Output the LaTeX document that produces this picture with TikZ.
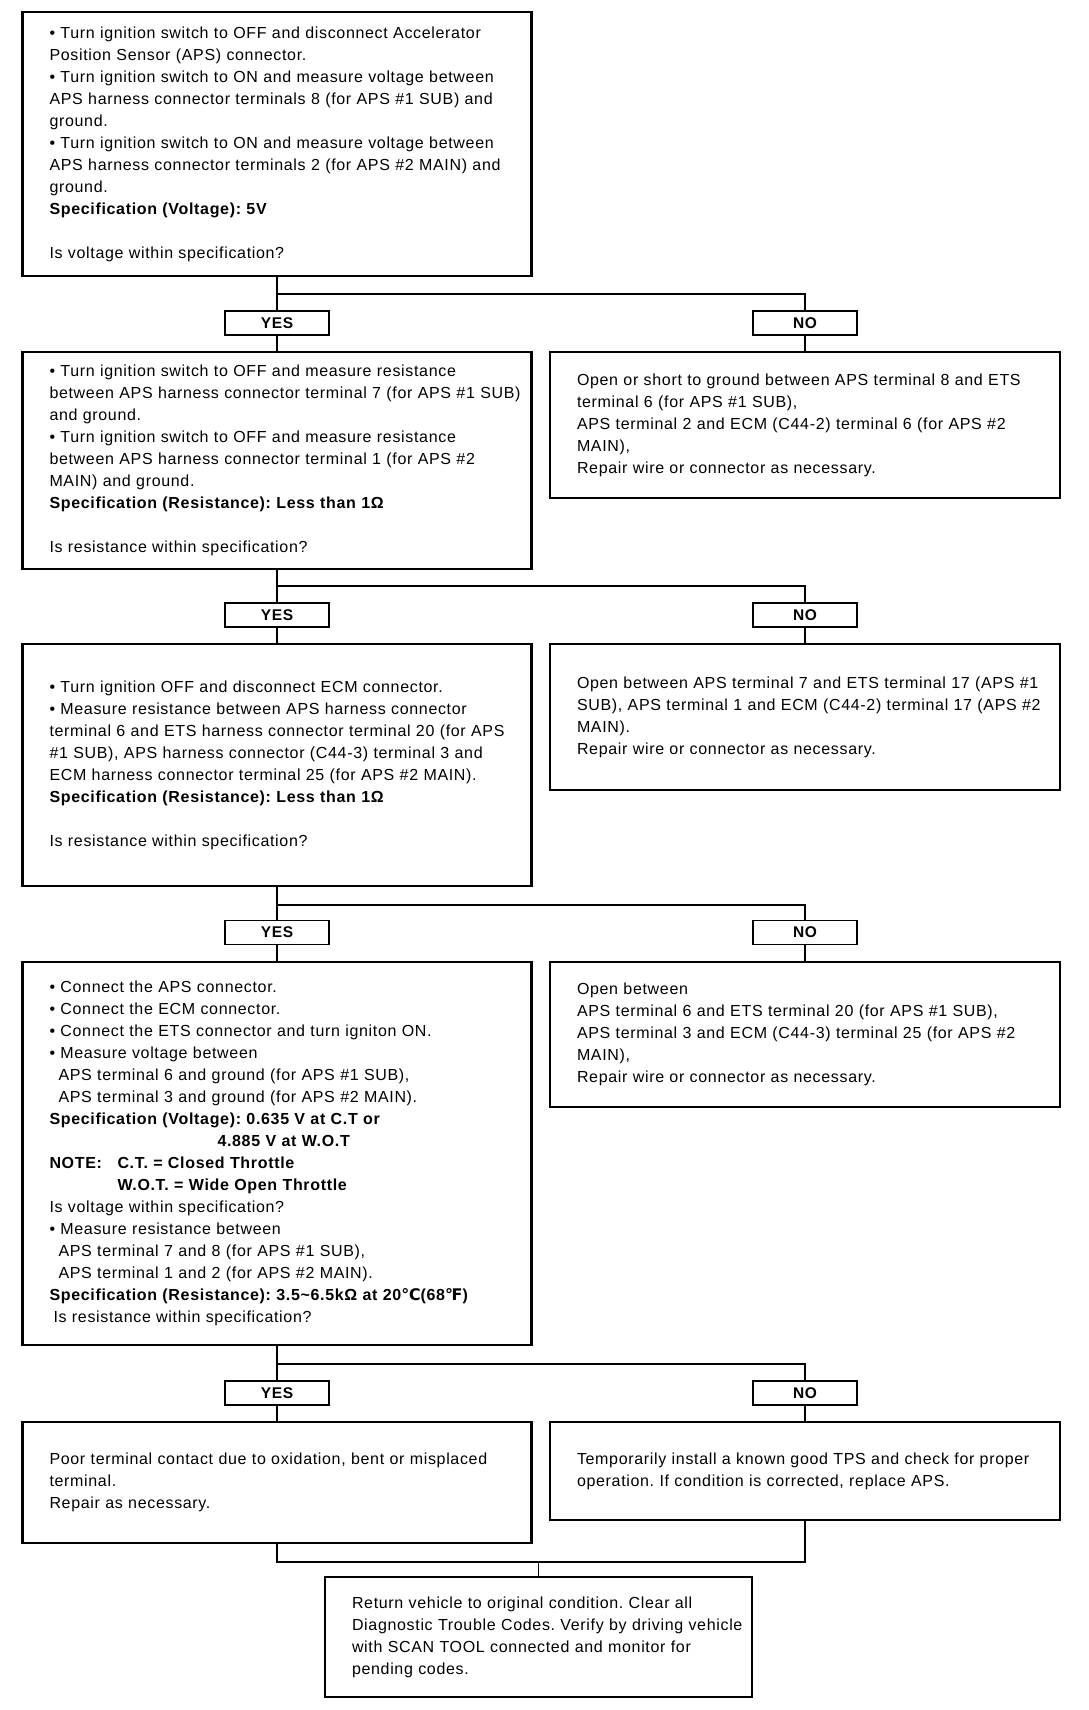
\documentclass[tikz,border=0pt]{standalone}
\usepackage{fontspec}
\setmainfont{Liberation Sans}[LetterSpace=4.2]
\newfontfamily\symfont{DejaVu Sans}

\begin{document}
\begin{tikzpicture}[x=1pt,y=1pt,
    box/.style={draw,line width=2.2pt,inner xsep=0pt,inner ysep=0pt,align=left,
      font=\fontsize{16}{22}\selectfont\frenchspacing,
      execute at begin node={\leftskip=25pt\rightskip=-40pt plus 1fil\relax}},
    lbox/.style={box,minimum width=509pt,text width=505pt},
    rbox/.style={box,minimum width=510pt,text width=506pt},
    yn/.style={draw,line width=1.8pt,minimum width=104pt,minimum height=24pt,inner sep=0pt,
      font=\fontsize{15.5}{18}\selectfont\bfseries},
    link/.style={line width=1.5pt}]
  \useasboundingbox (0,0) rectangle (1088,-1710);

  % checks on the left
  \node[lbox,minimum height=264pt] (chk1) at (277,-144) {%
    • Turn ignition switch to OFF and disconnect Accelerator\\
    Position Sensor (APS) connector.\\
    • Turn ignition switch to ON and measure voltage between\\
    APS harness connector terminals 8 (for APS \#1 SUB) and\\
    ground.\\
    • Turn ignition switch to ON and measure voltage between\\
    APS harness connector terminals 2 (for APS \#2 MAIN) and\\
    ground.\\
    \textbf{Specification (Voltage): 5V}\\[22pt]
    Is voltage within specification?};
  \node[lbox,minimum height=217pt] (chk2) at (277,-460.5) {%
    • Turn ignition switch to OFF and measure resistance\\
    between APS harness connector terminal 7 (for APS \#1 SUB)\\
    and ground.\\
    • Turn ignition switch to OFF and measure resistance\\
    between APS harness connector terminal 1 (for APS \#2\\
    MAIN) and ground.\\
    \textbf{Specification (Resistance): Less than 1Ω}\\[22pt]
    Is resistance within specification?};
  \node[lbox,minimum height=242pt] (chk3) at (277,-765) {%
    • Turn ignition OFF and disconnect ECM connector.\\
    • Measure resistance between APS harness connector\\
    terminal 6 and ETS harness connector terminal 20 (for APS\\
    \#1 SUB), APS harness connector (C44-3) terminal 3 and\\
    ECM harness connector terminal 25 (for APS \#2 MAIN).\\
    \textbf{Specification (Resistance): Less than 1Ω}\\[22pt]
    Is resistance within specification?};
  \node[lbox,minimum height=383pt] (chk4) at (277,-1153.5) {%
    • Connect the APS connector.\\
    • Connect the ECM connector.\\
    • Connect the ETS connector and turn igniton ON.\\
    • Measure voltage between\\
    \hspace*{9pt}APS terminal 6 and ground (for APS \#1 SUB),\\
    \hspace*{9pt}APS terminal 3 and ground (for APS \#2 MAIN).\\
    \textbf{Specification (Voltage): 0.635 V at C.T or}\\
    \hspace*{168pt}\textbf{4.885 V at W.O.T}\\
    \textbf{\makebox[68pt][l]{NOTE:}C.T. = Closed Throttle}\\
    \hspace*{68pt}\textbf{W.O.T. = Wide Open Throttle}\\
    Is voltage within specification?\\
    • Measure resistance between\\
    \hspace*{9pt}APS terminal 7 and 8 (for APS \#1 SUB),\\
    \hspace*{9pt}APS terminal 1 and 2 (for APS \#2 MAIN).\\
    \textbf{Specification (Resistance): 3.5\textasciitilde6.5kΩ at 20{\symfont ℃}(68{\symfont ℉})}\\
    \hspace*{4pt}Is resistance within specification?};
  \node[lbox,minimum height=121pt] (okbox) at (277,-1482.5) {%
    Poor terminal contact due to oxidation, bent or misplaced\\
    terminal.\\
    Repair as necessary.};

  % repairs on the right
  \node[rbox,minimum height=146pt] (fix1) at (805,-425) {%
    Open or short to ground between APS terminal 8 and ETS\\
    terminal 6 (for APS \#1 SUB),\\
    APS terminal 2 and ECM (C44-2) terminal 6 (for APS \#2\\
    MAIN),\\
    Repair wire or connector as necessary.};
  \node[rbox,minimum height=146pt] (fix2) at (805,-717) {%
    Open between APS terminal 7 and ETS terminal 17 (APS \#1\\
    SUB), APS terminal 1 and ECM (C44-2) terminal 17 (APS \#2\\
    MAIN).\\
    Repair wire or connector as necessary.};
  \node[rbox,minimum height=145pt] (fix3) at (805,-1034.5) {%
    Open between\\
    APS terminal 6 and ETS terminal 20 (for APS \#1 SUB),\\
    APS terminal 3 and ECM (C44-3) terminal 25 (for APS \#2\\
    MAIN),\\
    Repair wire or connector as necessary.};
  \node[rbox,minimum height=98pt] (tps) at (805,-1471) {%
    Temporarily install a known good TPS and check for proper\\
    operation. If condition is corrected, replace APS.};

  \node[box,minimum width=427pt,text width=423pt,minimum height=120pt] (final) at (538.5,-1637) {%
    Return vehicle to original condition. Clear all\\
    Diagnostic Trouble Codes. Verify by driving vehicle\\
    with SCAN TOOL connected and monitor for\\
    pending codes.};

  % yes / no tags
  \node[yn] (yes1) at (277,-323) {YES};
  \node[yn] (no1) at (805,-323) {NO};
  \node[yn] (yes2) at (277,-615) {YES};
  \node[yn] (no2) at (805,-615) {NO};
  \node[yn] (yes3) at (277,-932.5) {YES};
  \node[yn] (no3) at (805,-932.5) {NO};
  \node[yn] (yes4) at (277,-1393) {YES};
  \node[yn] (no4) at (805,-1393) {NO};

  % connectors
  \draw[link] (chk1.south) -- ++(0,-17) coordinate (j1) -| (no1.north);
  \draw[link] (j1) -- (yes1.north);
  \draw[link] (yes1.south) -- (chk2.north);
  \draw[link] (no1.south) -- (fix1.north);

  \draw[link] (chk2.south) -- ++(0,-16) coordinate (j2) -| (no2.north);
  \draw[link] (j2) -- (yes2.north);
  \draw[link] (yes2.south) -- (chk3.north);
  \draw[link] (no2.south) -- (fix2.north);

  \draw[link] (chk3.south) -- ++(0,-18) coordinate (j3) -| (no3.north);
  \draw[link] (j3) -- (yes3.north);
  \draw[link] (yes3.south) -- (chk4.north);
  \draw[link] (no3.south) -- (fix3.north);

  \draw[link] (chk4.south) -- ++(0,-18) coordinate (j4) -| (no4.north);
  \draw[link] (j4) -- (yes4.north);
  \draw[link] (yes4.south) -- (okbox.north);
  \draw[link] (no4.south) -- (tps.north);

  \draw[link] (okbox.south) -- ++(0,-18) coordinate (j5) -| (tps.south);
  \draw[link] (final.north) -- (final.north |- j5);
\end{tikzpicture}
\end{document}
